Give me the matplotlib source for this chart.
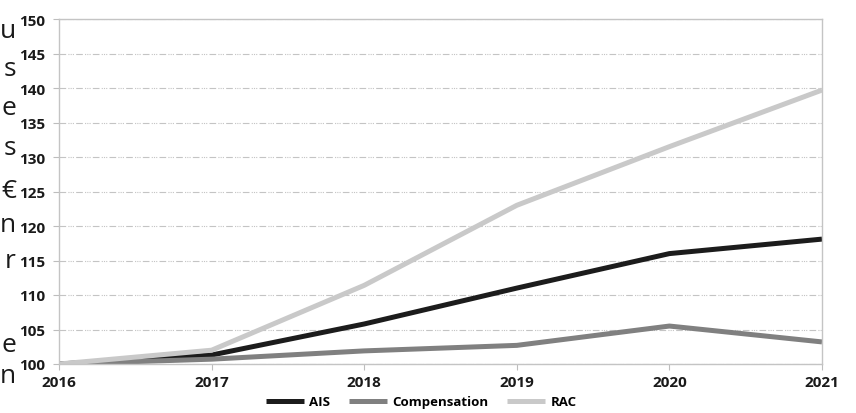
import matplotlib
matplotlib.use('Agg')
import matplotlib.pyplot as plt

plt.rcParams['font.family'] = ['Open Sans', 'DejaVu Sans']

years = [2016, 2017, 2018, 2019, 2020, 2021]
ais = [100, 101.3, 105.8, 111.0, 116.0, 118.1]
compensation = [100, 100.7, 101.9, 102.7, 105.5, 103.2]
rac = [100, 102.0, 111.4, 123.0, 131.5, 139.7]

# letters from the neighbouring text column, with their baselines in pixels
side_letters = ['u', 's', 'e', 's', '€', 'n', 'r', 'e', 'n']
side_baselines = [38, 76, 115, 155, 198, 232, 268, 352, 383]

fig = plt.figure(figsize=(8.56, 4.14), dpi=100)
ax = fig.add_axes([59 / 856, 1 - 365 / 414, (822 - 59) / 856, (365 - 20) / 414])

ax.plot(years, ais, color='#1c1c1c', lw=3.6, label='AIS', solid_capstyle='butt')
ax.plot(years, compensation, color='#808080', lw=3.6, label='Compensation', solid_capstyle='butt')
ax.plot(years, rac, color='#c9c9c9', lw=3.6, label='RAC', solid_capstyle='butt')

ax.set_xlim(2016, 2021)
ax.set_ylim(100, 150)
ax.set_xticks(years)
ax.set_yticks(range(100, 151, 5))
ax.tick_params(axis='both', length=4, color='#bdbdbd', labelsize=11, pad=4)
ax.tick_params(axis='y', pad=6)
for lab in ax.get_xticklabels() + ax.get_yticklabels():
    lab.set_fontweight('bold')
    lab.set_color('#1a1a1a')

ax.grid(axis='y', color='#c4c4c4', lw=0.8, linestyle=(0, (6, 2, 1, 1, 1, 1, 1, 2)))
ax.set_axisbelow(True)
for sp in ax.spines.values():
    sp.set_color('#c4c4c4')
    sp.set_linewidth(1.0)

fig.legend(loc='center', bbox_to_anchor=(421 / 856, 1 - 403 / 414), ncol=3, frameon=False,
           prop={'weight': 'bold', 'size': 9.5}, handlelength=2.9, handletextpad=0.4,
           columnspacing=1.4)

for ch, yb in zip(side_letters, side_baselines):
    fig.text(16 / 856, 1 - yb / 414, ch, ha='right', va='baseline', fontsize=19, color='#1a1a1a')

fig.savefig('out.png', dpi=100)
